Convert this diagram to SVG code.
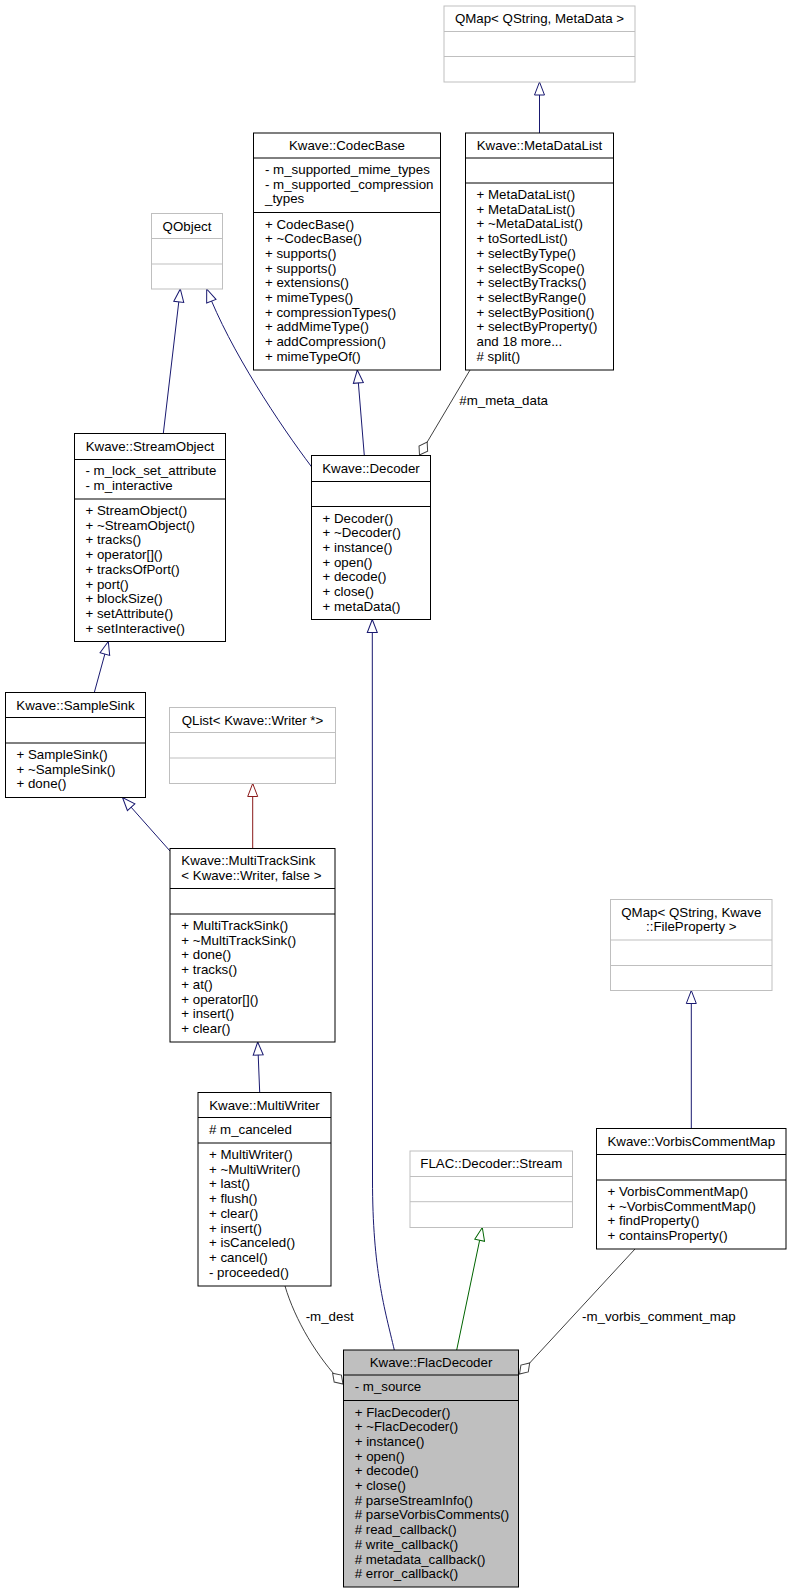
<svg xmlns="http://www.w3.org/2000/svg" width="791" height="1593" viewBox="0 0 791 1593">
<style>
text{font-family:"Liberation Sans",Arial,Helvetica,sans-serif;font-size:13.3px;fill:#000}
.c{text-anchor:middle}
.box{fill:#fff;stroke:#000;stroke-width:1}
.ubox{fill:#fff;stroke:#bfbfbf;stroke-width:1}
.sel{fill:#bfbfbf;stroke:#000;stroke-width:1}
.d{stroke:#000;stroke-width:1}
.ud{stroke:#bfbfbf;stroke-width:1}
.e{fill:none;stroke-width:1}
.pub{stroke:#191970}
.pri{stroke:#8b1a1a}
.pro{stroke:#006400}
.use{stroke:#404040}
.lbl{font-size:13.3px}
</style>
<defs>
<marker id="triBlue" viewBox="-1 -6 15 12" refX="13" refY="0" markerWidth="15" markerHeight="12" markerUnits="userSpaceOnUse" orient="auto"><path d="M0,-5 L13,0 L0,5 Z" fill="#fff" stroke="#191970"/></marker>
<marker id="triRed" viewBox="-1 -6 15 12" refX="13" refY="0" markerWidth="15" markerHeight="12" markerUnits="userSpaceOnUse" orient="auto"><path d="M0,-5 L13,0 L0,5 Z" fill="#fff" stroke="#8b1a1a"/></marker>
<marker id="triGreen" viewBox="-1 -6 15 12" refX="13" refY="0" markerWidth="15" markerHeight="12" markerUnits="userSpaceOnUse" orient="auto"><path d="M0,-5 L13,0 L0,5 Z" fill="#fff" stroke="#006400"/></marker>
<marker id="dia" viewBox="-1 -6 17 12" refX="15" refY="0" markerWidth="17" markerHeight="12" markerUnits="userSpaceOnUse" orient="auto"><path d="M0,0 L7.5,-5 L15,0 L7.5,5 Z" fill="#fff" stroke="#404040"/></marker>
</defs>

<g id="connectors">
<path class="e pub" d="M539.5,133 L539.5,82" marker-end="url(#triBlue)"/>
<path class="e pub" d="M163.3,433.5 L180.3,289" marker-end="url(#triBlue)"/>
<path class="e pub" d="M311.7,467 C280,425 230,350 206.7,289" marker-end="url(#triBlue)"/>
<path class="e pub" d="M364.3,455.5 L357.3,370" marker-end="url(#triBlue)"/>
<path class="e use" d="M470,370 L419.5,455" marker-end="url(#dia)"/>
<text class="lbl" x="459.3" y="404.5">#m_meta_data</text>
<path class="e pub" d="M94.3,692.5 L108.3,641.5" marker-end="url(#triBlue)"/>
<path class="e pri" d="M252.7,848.5 L252.7,783.5" marker-end="url(#triRed)"/>
<path class="e pub" d="M170,851 L122.5,797.5" marker-end="url(#triBlue)"/>
<path class="e pub" d="M259.7,1092.5 L257.7,1042" marker-end="url(#triBlue)"/>
<path class="e pub" d="M394.3,1350 C385,1310 372.5,1270 372.5,1180 L372.3,619.5" marker-end="url(#triBlue)"/>
<path class="e pro" d="M456.7,1350 L482.3,1227.5" marker-end="url(#triGreen)"/>
<path class="e pub" d="M691.3,1128.5 L691.3,990.5" marker-end="url(#triBlue)"/>
<path class="e use" d="M285,1286 C295,1320 317,1357 343,1384" marker-end="url(#dia)"/>
<text class="lbl" x="305.7" y="1321">-m_dest</text>
<path class="e use" d="M635,1249 L519.5,1374" marker-end="url(#dia)"/>
<text class="lbl" x="582" y="1321">-m_vorbis_comment_map</text>
</g>

<g id="QMapMetaData">
<rect class="ubox" x="444" y="6" width="191" height="76"/>
<line class="ud" x1="444" y1="31.5" x2="635" y2="31.5"/>
<line class="ud" x1="444" y1="56.5" x2="635" y2="56.5"/>
<text class="c" x="539.5" y="23">QMap&lt; QString, MetaData &gt;</text>
</g>

<g id="MetaDataList">
<rect class="box" x="465.5" y="133" width="148" height="237"/>
<line class="d" x1="465.5" y1="158" x2="613.5" y2="158"/>
<line class="d" x1="465.5" y1="183" x2="613.5" y2="183"/>
<text class="c" x="539.5" y="150">Kwave::MetaDataList</text>
<text x="476.5" y="199"><tspan x="476.5">+ MetaDataList()</tspan><tspan x="476.5" dy="14.7">+ MetaDataList()</tspan><tspan x="476.5" dy="14.7">+ ~MetaDataList()</tspan><tspan x="476.5" dy="14.7">+ toSortedList()</tspan><tspan x="476.5" dy="14.7">+ selectByType()</tspan><tspan x="476.5" dy="14.7">+ selectByScope()</tspan><tspan x="476.5" dy="14.7">+ selectByTracks()</tspan><tspan x="476.5" dy="14.7">+ selectByRange()</tspan><tspan x="476.5" dy="14.7">+ selectByPosition()</tspan><tspan x="476.5" dy="14.7">+ selectByProperty()</tspan><tspan x="476.5" dy="14.7">and 18 more...</tspan><tspan x="476.5" dy="14.7"># split()</tspan></text>
</g>

<g id="CodecBase">
<rect class="box" x="253.5" y="133" width="187" height="237"/>
<line class="d" x1="253.5" y1="158" x2="440.5" y2="158"/>
<line class="d" x1="253.5" y1="212.5" x2="440.5" y2="212.5"/>
<text class="c" x="347" y="150">Kwave::CodecBase</text>
<text x="265" y="174"><tspan x="265">- m_supported_mime_types</tspan><tspan x="265" dy="14.7">- m_supported_compression</tspan><tspan x="265" dy="14.7">_types</tspan></text>
<text x="265" y="228.5"><tspan x="265">+ CodecBase()</tspan><tspan x="265" dy="14.7">+ ~CodecBase()</tspan><tspan x="265" dy="14.7">+ supports()</tspan><tspan x="265" dy="14.7">+ supports()</tspan><tspan x="265" dy="14.7">+ extensions()</tspan><tspan x="265" dy="14.7">+ mimeTypes()</tspan><tspan x="265" dy="14.7">+ compressionTypes()</tspan><tspan x="265" dy="14.7">+ addMimeType()</tspan><tspan x="265" dy="14.7">+ addCompression()</tspan><tspan x="265" dy="14.7">+ mimeTypeOf()</tspan></text>
</g>

<g id="QObject">
<rect class="ubox" x="151.5" y="213.5" width="71" height="75.5"/>
<line class="ud" x1="151.5" y1="238.5" x2="222.5" y2="238.5"/>
<line class="ud" x1="151.5" y1="264" x2="222.5" y2="264"/>
<text class="c" x="187" y="230.5">QObject</text>
</g>

<g id="StreamObject">
<rect class="box" x="74.5" y="433.5" width="151" height="208"/>
<line class="d" x1="74.5" y1="459.5" x2="225.5" y2="459.5"/>
<line class="d" x1="74.5" y1="499" x2="225.5" y2="499"/>
<text class="c" x="150" y="450.5">Kwave::StreamObject</text>
<text x="85.5" y="475.3"><tspan x="85.5">- m_lock_set_attribute</tspan><tspan x="85.5" dy="14.7">- m_interactive</tspan></text>
<text x="85.5" y="515"><tspan x="85.5">+ StreamObject()</tspan><tspan x="85.5" dy="14.7">+ ~StreamObject()</tspan><tspan x="85.5" dy="14.7">+ tracks()</tspan><tspan x="85.5" dy="14.7">+ operator[]()</tspan><tspan x="85.5" dy="14.7">+ tracksOfPort()</tspan><tspan x="85.5" dy="14.7">+ port()</tspan><tspan x="85.5" dy="14.7">+ blockSize()</tspan><tspan x="85.5" dy="14.7">+ setAttribute()</tspan><tspan x="85.5" dy="14.7">+ setInteractive()</tspan></text>
</g>

<g id="Decoder">
<rect class="box" x="311.5" y="455.5" width="119" height="164"/>
<line class="d" x1="311.5" y1="481.5" x2="430.5" y2="481.5"/>
<line class="d" x1="311.5" y1="506.5" x2="430.5" y2="506.5"/>
<text class="c" x="371" y="472.5">Kwave::Decoder</text>
<text x="322.5" y="522.5"><tspan x="322.5">+ Decoder()</tspan><tspan x="322.5" dy="14.7">+ ~Decoder()</tspan><tspan x="322.5" dy="14.7">+ instance()</tspan><tspan x="322.5" dy="14.7">+ open()</tspan><tspan x="322.5" dy="14.7">+ decode()</tspan><tspan x="322.5" dy="14.7">+ close()</tspan><tspan x="322.5" dy="14.7">+ metaData()</tspan></text>
</g>

<g id="SampleSink">
<rect class="box" x="5.5" y="692.5" width="140" height="105"/>
<line class="d" x1="5.5" y1="717.5" x2="145.5" y2="717.5"/>
<line class="d" x1="5.5" y1="743" x2="145.5" y2="743"/>
<text class="c" x="75.5" y="709.5">Kwave::SampleSink</text>
<text x="16.5" y="759"><tspan x="16.5">+ SampleSink()</tspan><tspan x="16.5" dy="14.7">+ ~SampleSink()</tspan><tspan x="16.5" dy="14.7">+ done()</tspan></text>
</g>

<g id="QListWriter">
<rect class="ubox" x="169.5" y="707.5" width="166" height="76"/>
<line class="ud" x1="169.5" y1="732.5" x2="335.5" y2="732.5"/>
<line class="ud" x1="169.5" y1="758" x2="335.5" y2="758"/>
<text class="c" x="252.5" y="724.5">QList&lt; Kwave::Writer *&gt;</text>
</g>

<g id="MultiTrackSink">
<rect class="box" x="170" y="848.5" width="165" height="193.5"/>
<line class="d" x1="170" y1="888.5" x2="335" y2="888.5"/>
<line class="d" x1="170" y1="914" x2="335" y2="914"/>
<text x="181.3" y="865"><tspan x="181.3">Kwave::MultiTrackSink</tspan><tspan x="181.3" dy="14.7">&lt; Kwave::Writer, false &gt;</tspan></text>
<text x="181.3" y="930"><tspan x="181.3">+ MultiTrackSink()</tspan><tspan x="181.3" dy="14.7">+ ~MultiTrackSink()</tspan><tspan x="181.3" dy="14.7">+ done()</tspan><tspan x="181.3" dy="14.7">+ tracks()</tspan><tspan x="181.3" dy="14.7">+ at()</tspan><tspan x="181.3" dy="14.7">+ operator[]()</tspan><tspan x="181.3" dy="14.7">+ insert()</tspan><tspan x="181.3" dy="14.7">+ clear()</tspan></text>
</g>

<g id="MultiWriter">
<rect class="box" x="198" y="1092.5" width="133" height="193.5"/>
<line class="d" x1="198" y1="1117.5" x2="331" y2="1117.5"/>
<line class="d" x1="198" y1="1143" x2="331" y2="1143"/>
<text class="c" x="264.5" y="1109.5">Kwave::MultiWriter</text>
<text x="209" y="1133.7"># m_canceled</text>
<text x="209" y="1159"><tspan x="209">+ MultiWriter()</tspan><tspan x="209" dy="14.7">+ ~MultiWriter()</tspan><tspan x="209" dy="14.7">+ last()</tspan><tspan x="209" dy="14.7">+ flush()</tspan><tspan x="209" dy="14.7">+ clear()</tspan><tspan x="209" dy="14.7">+ insert()</tspan><tspan x="209" dy="14.7">+ isCanceled()</tspan><tspan x="209" dy="14.7">+ cancel()</tspan><tspan x="209" dy="14.7">- proceeded()</tspan></text>
</g>

<g id="QMapFileProperty">
<rect class="ubox" x="610.5" y="899.5" width="161.5" height="91"/>
<line class="ud" x1="610.5" y1="940" x2="772" y2="940"/>
<line class="ud" x1="610.5" y1="965.5" x2="772" y2="965.5"/>
<text class="c" x="691.3" y="916.5"><tspan x="691.3">QMap&lt; QString, Kwave</tspan><tspan x="691.3" dy="14.7">::FileProperty &gt;</tspan></text>
</g>

<g id="VorbisCommentMap">
<rect class="box" x="596.5" y="1128.5" width="189.5" height="120.5"/>
<line class="d" x1="596.5" y1="1154.5" x2="786" y2="1154.5"/>
<line class="d" x1="596.5" y1="1180" x2="786" y2="1180"/>
<text class="c" x="691.3" y="1145.7">Kwave::VorbisCommentMap</text>
<text x="607.5" y="1196"><tspan x="607.5">+ VorbisCommentMap()</tspan><tspan x="607.5" dy="14.7">+ ~VorbisCommentMap()</tspan><tspan x="607.5" dy="14.7">+ findProperty()</tspan><tspan x="607.5" dy="14.7">+ containsProperty()</tspan></text>
</g>

<g id="FLACDecoderStream">
<rect class="ubox" x="410" y="1151" width="162.5" height="76.5"/>
<line class="ud" x1="410" y1="1176.5" x2="572.5" y2="1176.5"/>
<line class="ud" x1="410" y1="1201.7" x2="572.5" y2="1201.7"/>
<text class="c" x="491.3" y="1168">FLAC::Decoder::Stream</text>
</g>

<g id="FlacDecoder">
<rect class="sel" x="343.5" y="1350" width="175" height="237"/>
<line class="d" x1="343.5" y1="1375" x2="518.5" y2="1375"/>
<line class="d" x1="343.5" y1="1400.5" x2="518.5" y2="1400.5"/>
<text class="c" x="431" y="1366.7">Kwave::FlacDecoder</text>
<text x="354.7" y="1391.3">- m_source</text>
<text x="354.7" y="1416.5"><tspan x="354.7">+ FlacDecoder()</tspan><tspan x="354.7" dy="14.7">+ ~FlacDecoder()</tspan><tspan x="354.7" dy="14.7">+ instance()</tspan><tspan x="354.7" dy="14.7">+ open()</tspan><tspan x="354.7" dy="14.7">+ decode()</tspan><tspan x="354.7" dy="14.7">+ close()</tspan><tspan x="354.7" dy="14.7"># parseStreamInfo()</tspan><tspan x="354.7" dy="14.7"># parseVorbisComments()</tspan><tspan x="354.7" dy="14.7"># read_callback()</tspan><tspan x="354.7" dy="14.7"># write_callback()</tspan><tspan x="354.7" dy="14.7"># metadata_callback()</tspan><tspan x="354.7" dy="14.7"># error_callback()</tspan></text>
</g>
</svg>
